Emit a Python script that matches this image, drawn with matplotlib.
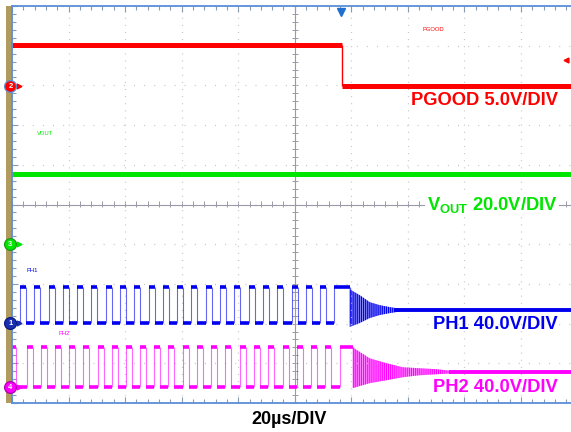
import numpy as np
import matplotlib.pyplot as plt
from matplotlib.patches import Rectangle

plt.rcParams['font.family'] = ['Liberation Sans', 'DejaVu Sans']
plt.rcParams['mathtext.fontset'] = 'custom'
plt.rcParams['mathtext.rm'] = 'Liberation Sans:bold'
plt.rcParams['mathtext.bf'] = 'Liberation Sans:bold'
plt.rcParams['hatch.linewidth'] = 0.8

# scope screen: 10 x 10 divisions, 20 us/div
time_span = (0, 200)

# volts/div and ground marker position (divisions from centre)
pgood_scale, pgood_gnd = 5.0, 2.98
vout_scale, vout_gnd = 20.0, -0.995
ph1_scale, ph1_gnd = 40.0, -2.985
ph2_scale, ph2_gnd = 40.0, -4.60

# PGOOD (V)
pgood_t = [0.0, 116.6, 116.6, 200.0]
pgood_v = [5.2, 5.2, 0.0, 0.0]

# VOUT (V)
vout_t = [0.0, 200.0]
vout_v = [35.3, 35.3]

# PH1 switch node edges (us) and levels (V)
ph1_rise = [2.82, 7.88, 12.94, 17.98, 23.04, 28.10, 33.14, 38.20, 43.26, 48.30,
            53.36, 58.40, 63.46, 68.52, 73.56, 78.62, 83.68, 88.72, 93.78, 98.84,
            103.88, 108.94, 114.00]
ph1_fall = [4.94, 10.00, 15.06, 20.10, 25.16, 30.22, 35.26, 40.32, 45.38, 50.42,
            55.48, 60.52, 65.58, 70.64, 75.68, 80.74, 85.80, 90.84, 95.90, 100.96,
            106.00, 111.06, 119.40]
ph1_high, ph1_low = 36.0, 0.0
ph1_ring_t = [119.4, 123.0, 126.5, 130.0, 133.6, 137.0]
ph1_ring_hi = [34.0, 28.0, 21.0, 18.0, 16.0, 14.5]
ph1_ring_lo = [-4.0, 0.0, 5.0, 8.0, 10.0, 11.5]
ph1_idle = 13.0

# PH2 switch node edges (us) and levels (V)
ph2_rise = [0.0, 5.20, 10.14, 15.20, 20.24, 25.20, 30.28, 35.34, 40.28, 45.22,
            50.28, 55.22, 60.32, 65.38, 70.42, 75.48, 80.54, 85.58, 90.64, 95.68,
            100.74, 105.80, 110.84, 115.90]
ph2_fall = [1.40, 7.32, 12.26, 17.32, 22.36, 27.32, 32.40, 37.46, 42.40, 47.34,
            52.40, 57.34, 62.44, 67.50, 72.54, 77.60, 82.66, 87.70, 92.76, 97.80,
            102.86, 107.92, 112.96, 120.50]
ph2_high, ph2_low = 40.0, 0.0
ph2_ring_t = [120.5, 126.5, 132.5, 138.2, 144.2, 150.2, 156.5]
ph2_ring_hi = [40.0, 29.0, 24.0, 20.0, 19.0, 18.0, 16.0]
ph2_ring_lo = [-1.0, 4.0, 7.0, 10.0, 12.0, 13.0, 14.0]
ph2_idle = 15.0

trigger_t = 116.2
trigger_level = 3.64  # div

RED = '#ff0000'
GREEN = '#00e600'
BLUE = '#0000ee'
MAGENTA = '#ff00ff'
FRAME = '#5b8fd8'


def to_div(v, gnd, scale):
    return gnd + np.asarray(v, dtype=float) / scale


def draw_pulses(ax, rise, fall, hi, lo, gnd, scale, color, start_low=True):
    rise = np.asarray(rise)
    fall = np.asarray(fall)
    y_hi = to_div(hi, gnd, scale)
    y_lo = to_div(lo, gnd, scale)
    edges = np.concatenate([rise, fall])
    ax.vlines(edges, np.full(len(edges), y_lo), np.full(len(edges), y_hi),
              color=color, lw=0.8, alpha=0.6)
    ax.hlines(np.full(len(rise), y_hi), rise, fall, color=color, lw=2.6)
    ax.hlines(np.full(len(rise) - 1, y_lo), fall[:-1], rise[1:], color=color, lw=2.6)
    if start_low:
        ax.hlines(y_lo, 0, rise[0], color=color, lw=2.6)


def draw_ring(ax, t, hi, lo, idle, gnd, scale, color):
    y_lo = to_div(lo, gnd, scale)
    y_hi = to_div(hi, gnd, scale)
    ax.fill_between(t, y_lo, y_hi, facecolor=color, alpha=0.45, edgecolor='none')
    ax.fill_between(t, y_lo, y_hi, facecolor='none', edgecolor=color,
                    hatch='||||||||', lw=0)
    ax.hlines(to_div(idle, gnd, scale), t[-1] - 2, time_span[1], color=color, lw=2.8)


fig = plt.figure(figsize=(5.71, 4.32), dpi=100)
ax = fig.add_axes([12 / 571, 29 / 432, 565.6 / 571, 397 / 432])
ax.set_xlim(*time_span)
ax.set_ylim(-5, 5)

# graticule
ax.set_xticks(np.arange(0, 201, 20))
ax.set_xticks(np.arange(0, 201, 4), minor=True)
ax.set_yticks(np.arange(-5, 6, 1))
ax.set_yticks(np.arange(-5, 5.01, 0.2), minor=True)
ax.tick_params(which='both', direction='in', top=True, right=True,
               labelbottom=False, labelleft=False, color='#8a9ab0', width=0.8)
ax.tick_params(which='major', length=4)
ax.tick_params(which='minor', length=3)
ax.xaxis.grid(True, which='major', color='#c4c4c4', lw=0.9, linestyle=(0, (0.8, 4.9)))
ax.yaxis.grid(True, which='major', color='#c4c4c4', lw=0.9, linestyle=(0, (0.8, 7.3)))
for s in ax.spines.values():
    s.set_color(FRAME)
    s.set_linewidth(1.3)

ax.axhline(0, color='#9a9aa8', lw=0.8)
ax.axvline(100, color='#9a9aa8', lw=0.8)
secx = ax.secondary_xaxis(0.5)
secx.set_xticks(np.arange(0, 201, 20))
secx.set_xticks(np.arange(0, 201, 4), minor=True)
secx.tick_params(which='both', direction='inout', length=5, color='#9a9aa8',
                 labelbottom=False, labeltop=False, width=0.7)
for s in secx.spines.values():
    s.set_visible(False)
secy = ax.secondary_yaxis(0.5)
secy.set_yticks(np.arange(-5, 6, 1))
secy.set_yticks(np.arange(-5, 5.01, 0.2), minor=True)
secy.tick_params(which='both', direction='inout', length=5, color='#9a9aa8',
                 labelleft=False, labelright=False, width=0.7)
for s in secy.spines.values():
    s.set_visible(False)

# brown strip left of the screen
ax.add_patch(Rectangle((-6 / 565.6, 0), 6 / 565.6, 1, transform=ax.transAxes,
                       facecolor='#b09a5e', edgecolor='none', clip_on=False))

# PGOOD
pg_y = to_div(pgood_v, pgood_gnd, pgood_scale)
ax.hlines(pg_y[0], pgood_t[0], pgood_t[1], color=RED, lw=3.6)
ax.vlines(pgood_t[1], pg_y[2], pg_y[1], color=RED, lw=1.0)
ax.hlines(pg_y[2], pgood_t[2], pgood_t[3], color=RED, lw=3.6)

# VOUT
ax.plot(vout_t, to_div(vout_v, vout_gnd, vout_scale), color=GREEN, lw=3.6)

# PH1 / PH2
draw_pulses(ax, ph1_rise, ph1_fall, ph1_high, ph1_low, ph1_gnd, ph1_scale, BLUE)
draw_ring(ax, ph1_ring_t, ph1_ring_hi, ph1_ring_lo, ph1_idle, ph1_gnd, ph1_scale, BLUE)
draw_pulses(ax, ph2_rise, ph2_fall, ph2_high, ph2_low, ph2_gnd, ph2_scale, MAGENTA,
            start_low=False)
draw_ring(ax, ph2_ring_t, ph2_ring_hi, ph2_ring_lo, ph2_idle, ph2_gnd, ph2_scale, MAGENTA)

# channel ground markers
markers = [('2', pgood_gnd, RED, FRAME), ('3', vout_gnd, GREEN, '#1a9a1a'),
           ('1', ph1_gnd, '#1a2fb0', '#0a1a80'), ('4', ph2_gnd, MAGENTA, '#b000b0')]
for num, gnd, col, edge in markers:
    ax.plot([0.3, 2.6], [gnd, gnd], color=col, lw=1.0, clip_on=False, zorder=5)
    ax.plot(2.6, gnd, marker='>', ms=3.5, color=col, clip_on=False, zorder=5)
    ax.plot(-0.55, gnd, marker='o', ms=8.5, mfc=col, mec=edge, mew=0.9,
            clip_on=False, zorder=6)
    ax.text(-0.55, gnd, num, color='white', fontsize=5.5, ha='center', va='center',
            fontweight='bold', zorder=7, clip_on=False)

# trigger markers
ax.plot(trigger_t, 4.86, marker='v', ms=5.5, color='#1f6fd0', clip_on=False, zorder=6)
ax.plot(195.8, trigger_level, marker='<', ms=3.5, color=RED, clip_on=False, zorder=6)

# small channel names
ax.text(145.2, 4.40, 'PGOOD', color=RED, fontsize=4.2, va='center')
ax.text(8.8, 1.80, 'VOUT', color=GREEN, fontsize=4.2, va='center')
ax.text(5.3, -1.65, 'PH1', color=BLUE, fontsize=4.2, va='center')
ax.text(16.3, -3.24, 'PH2', color=MAGENTA, fontsize=4.2, va='center')

# scale labels
lab = dict(fontsize=13.2, fontweight='bold', ha='right', va='center', zorder=8)
ax.text(192.9, 2.63, 'PGOOD 5.0V/DIV', color=RED, **lab)
ax.text(192.9, -0.01, r'V$_{\mathrm{OUT}}$ 20.0V/DIV', color=GREEN,
        bbox=dict(facecolor='white', edgecolor='none', pad=1.0), **lab)
ax.text(192.9, -3.03, 'PH1 40.0V/DIV', color=BLUE, **lab)
ax.text(192.9, -4.62, 'PH2 40.0V/DIV', color=MAGENTA, **lab)

fig.text(0.507, 0.028, '20µs/DIV', fontsize=13, fontweight='bold', ha='center',
         va='center', color='black')

fig.savefig('out.png', dpi=100, facecolor='white')
